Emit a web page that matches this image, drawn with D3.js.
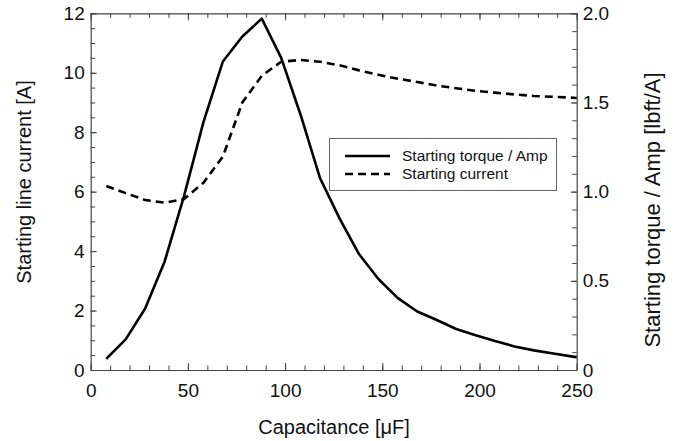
<!DOCTYPE html>
<html>
<head>
<meta charset="utf-8">
<script src="https://cdn.jsdelivr.net/npm/d3@7"></script>
<style>
  body { margin: 0; background: #fff; }
  svg text { font-family: "Liberation Sans", Arial, sans-serif; fill: #111; }
</style>
</head>
<body>
<svg width="693" height="441"></svg>
<script>
// capacitance values [uF]
var capacitance = [8, 18, 28, 38, 48, 58, 68, 78, 88, 98, 108, 118, 128, 138, 148,
  158, 168, 178, 188, 198, 208, 218, 228, 238, 248, 250];

// starting torque per amp [lbft/A]  (right axis)
var torquePerAmp = [0.062, 0.172, 0.345, 0.607, 0.975, 1.39, 1.73, 1.87, 1.97, 1.75,
  1.43, 1.075, 0.85, 0.65, 0.51, 0.403, 0.328, 0.28, 0.23, 0.195,
  0.162, 0.132, 0.11, 0.092, 0.075, 0.072];

// starting line current [A]  (left axis)
var startCurrent = [6.19, 5.95, 5.72, 5.63, 5.75, 6.3, 7.18, 9.0, 9.9, 10.37,
  10.43, 10.37, 10.25, 10.08, 9.93, 9.8, 9.69, 9.57, 9.48, 9.39,
  9.33, 9.27, 9.22, 9.19, 9.16, 9.15];

var xTicks = [0, 50, 100, 150, 200, 250];
var leftTicks = [0, 2, 4, 6, 8, 10, 12];
var rightTicks = [0, 0.5, 1.0, 1.5, 2.0];

var legendLabels = ["Starting torque / Amp", "Starting current"];

var svg = d3.select("svg");
var m = {left: 90.7, right: 576.7, top: 13.3, bottom: 370};

var x = d3.scaleLinear().domain([0, 250]).range([m.left, m.right]);
var yL = d3.scaleLinear().domain([0, 12]).range([m.bottom, m.top]);
var yR = d3.scaleLinear().domain([0, 2]).range([m.bottom, m.top]);

var axisColor = "#444";

//###############################################
// minor ticks (inward)
//###############################################
var g = svg.append("g");

function minor(axis, scale, vals, size, tr) {
  var a = g.append("g").attr("transform", tr)
    .call(axis(scale).tickValues(vals).tickSizeInner(size).tickSizeOuter(0).tickFormat(""));
  a.select(".domain").remove();
  a.selectAll("line").attr("stroke", axisColor);
}
minor(d3.axisBottom, x, d3.range(0, 251, 10), -4.5, "translate(0," + m.bottom + ")");
minor(d3.axisTop, x, d3.range(0, 251, 10), -4.5, "translate(0," + m.top + ")");
minor(d3.axisLeft, yL, d3.range(0, 12.01, 0.5), -4.5, "translate(" + m.left + ",0)");
minor(d3.axisRight, yR, d3.range(0, 2.001, 0.1), -4.5, "translate(" + m.right + ",0)");

//###############################################
// major axes
//###############################################
var axBottom = g.append("g").attr("transform", "translate(0," + m.bottom + ")")
  .call(d3.axisBottom(x).tickValues(xTicks).tickSizeInner(-7).tickSizeOuter(0).tickPadding(14));
var axTop = g.append("g").attr("transform", "translate(0," + m.top + ")")
  .call(d3.axisTop(x).tickValues(xTicks).tickSizeInner(-7).tickSizeOuter(0).tickFormat(""));
var axLeft = g.append("g").attr("transform", "translate(" + m.left + ",0)")
  .call(d3.axisLeft(yL).tickValues(leftTicks).tickSizeInner(-6).tickSizeOuter(0).tickPadding(6));
var axRight = g.append("g").attr("transform", "translate(" + m.right + ",0)")
  .call(d3.axisRight(yR).tickValues(rightTicks).tickSizeInner(-6).tickSizeOuter(0).tickPadding(6)
    .tickFormat(function(d) { return d === 0 ? "0" : d3.format(".1f")(d); }));

[axBottom, axTop, axLeft, axRight].forEach(function(a) {
  a.attr("font-size", null).attr("font-family", null);
  a.selectAll("line").attr("stroke", axisColor);
  a.select(".domain").attr("stroke", axisColor).attr("stroke-width", 1.2);
  a.selectAll("text").attr("font-size", 19).style("fill", "#111");
});

//###############################################
// lines
//###############################################
var pts = capacitance.map(function(c, i) {
  return {c: c, t: torquePerAmp[i], i: startCurrent[i]};
});

svg.append("path").datum(pts)
  .attr("fill", "none").attr("stroke", "#000").attr("stroke-width", 2.6)
  .attr("stroke-dasharray", "8,5")
  .attr("d", d3.line().x(function(d) { return x(d.c); }).y(function(d) { return yL(d.i); }));

svg.append("path").datum(pts)
  .attr("fill", "none").attr("stroke", "#000").attr("stroke-width", 2.6)
  .attr("stroke-linejoin", "round")
  .attr("d", d3.line().x(function(d) { return x(d.c); }).y(function(d) { return yR(d.t); }));

//###############################################
// axis titles
//###############################################
svg.append("text").attr("x", 334).attr("y", 434).attr("text-anchor", "middle")
  .attr("font-size", 20).text("Capacitance [\u03bcF]");

svg.append("text").attr("transform", "translate(24,182) rotate(-90)")
  .attr("dy", "0.35em").attr("text-anchor", "middle")
  .attr("font-size", 20).text("Starting line current [A]");

svg.append("text").attr("transform", "translate(652,210) rotate(-90)")
  .attr("dy", "0.35em").attr("text-anchor", "middle")
  .attr("font-size", 22).text("Starting torque / Amp [lbft/A]");

//###############################################
// legend
//###############################################
var leg = svg.append("g");
leg.append("rect").attr("x", 329.5).attr("y", 138.5).attr("width", 227).attr("height", 52)
  .attr("fill", "#fff").attr("stroke", "#666").attr("stroke-width", 1);

legendLabels.forEach(function(lbl, i) {
  var yy = 156 + i * 18;
  leg.append("line").attr("x1", 345).attr("x2", 390).attr("y1", yy).attr("y2", yy)
    .attr("stroke", "#000").attr("stroke-width", 2.6)
    .attr("stroke-dasharray", i === 1 ? "8,5" : null);
  leg.append("text").attr("x", 402).attr("y", yy + 4.5).attr("font-size", 15.5).text(lbl);
});
</script>
</body>
</html>
